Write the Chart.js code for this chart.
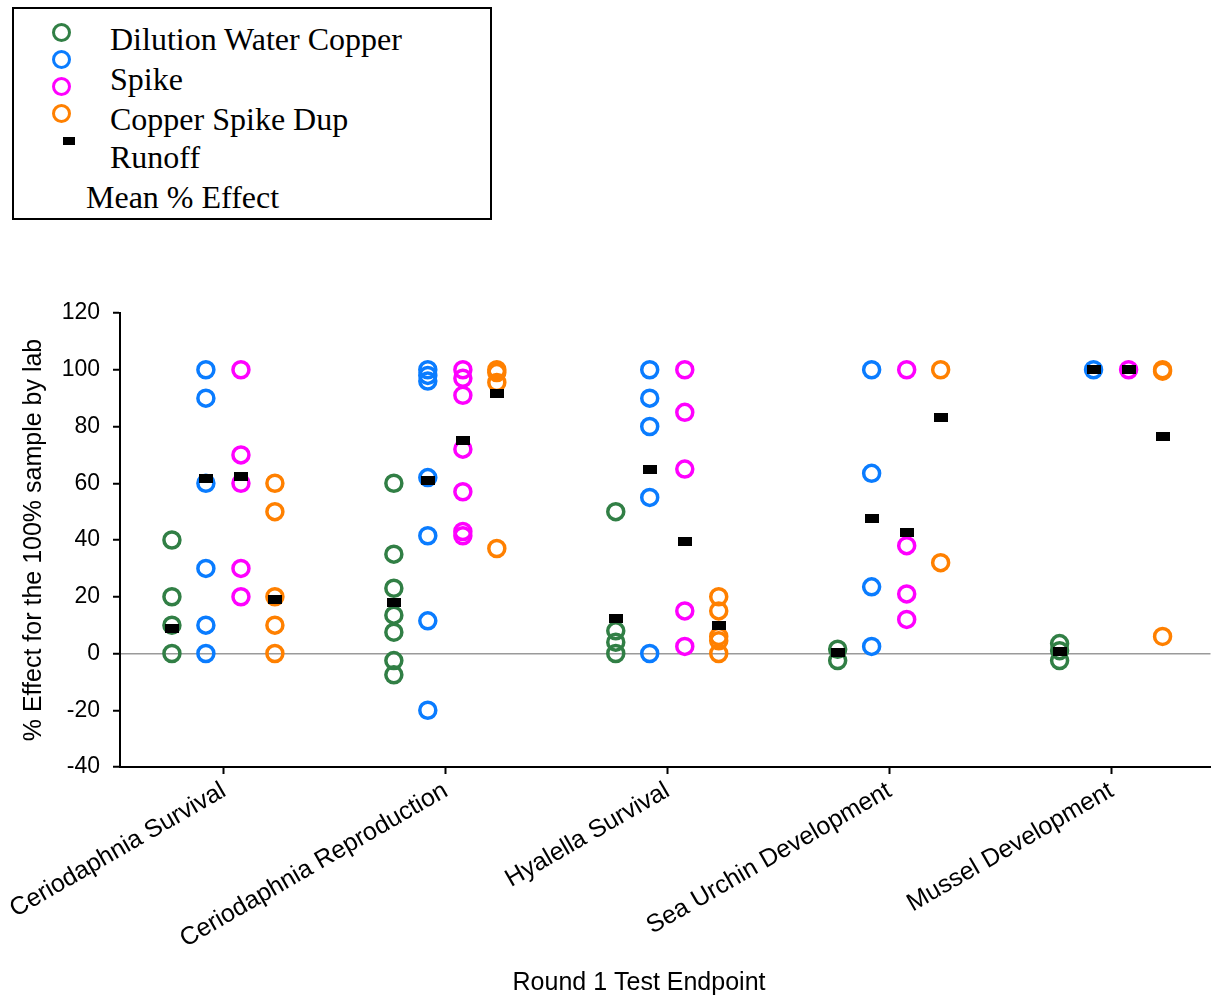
<!DOCTYPE html>
<html>
<head>
<meta charset="utf-8">
<script src="https://cdn.jsdelivr.net/npm/chart.js@4.4.0/dist/chart.umd.min.js"></script>
<style>
  body { margin: 0; background: #fff; }
  #wrap { position: relative; width: 1211px; height: 998px; overflow: hidden; }
  #legend {
    position: absolute; left: 12px; top: 7px; width: 476px; height: 209px;
    border: 2px solid #000; background: #fff;
    font-family: 'Liberation Serif', 'Times New Roman', serif; font-size: 32px; color: #000;
  }
  #legend .txt { position: absolute; line-height: 32px; white-space: nowrap; }
  #legend .dot { position: absolute; width: 19px; height: 19px; box-sizing: border-box; border: 3.5px solid; border-radius: 50%; }
  #legend .box { position: absolute; width: 12px; height: 8px; background: #000; }
</style>
</head>
<body>
<div id="wrap">
  <!-- canvas a bit wider than the page: Chart.js keeps room for point overflow on the right -->
  <canvas id="scatterChart" width="1222" height="998"></canvas>
  <div id="legend">
    <div class="dot" style="left:38px;top:14px;border-color:#317f45"></div>
    <div class="dot" style="left:38px;top:41px;border-color:#0a7cff"></div>
    <div class="dot" style="left:38px;top:68px;border-color:#ff00ff"></div>
    <div class="dot" style="left:38px;top:95px;border-color:#ff8000"></div>
    <div class="box" style="left:49px;top:128px"></div>
    <div class="txt" style="left:96px;top:14px">Dilution Water Copper</div>
    <div class="txt" style="left:96px;top:54px">Spike</div>
    <div class="txt" style="left:96px;top:94px">Copper Spike Dup</div>
    <div class="txt" style="left:96px;top:132px">Runoff</div>
    <div class="txt" style="left:72px;top:172px">Mean % Effect</div>
  </div>
</div>
<script>
// categories (x axis)
var categories = ['Ceriodaphnia Survival', 'Ceriodaphnia Reproduction', 'Hyalella Survival',
                  'Sea Urchin Development', 'Mussel Development'];

// % effect per lab, one list per category
var dilutionWater = [[40, 20, 10, 0], [60, 35, 23, 13.5, 7.5, -2.5, -7.5], [50, 8, 4, 0], [1.5, -2.5], [3.5, 1, -2.5]];
var copperSpike = [[100, 90, 60, 30, 10, 0], [100, 98, 96, 62, 41.5, 11.5, -20], [100, 90, 80, 55, 0], [100, 63.5, 23.5, 2.5], [100]];
var spikeDup = [[100, 70, 60, 30, 20], [100, 97, 91, 72, 57, 43, 41.5], [100, 85, 65, 15, 2.5], [100, 38, 21, 12], [100]];
var runoff = [[60, 50, 20, 10, 0], [100, 99, 95.5, 37], [20, 15, 6, 4.5, 0], [100, 32], [100, 99.5, 6]];

// mean % effect per category
var meanDilution = [8.7, 17.8, 12.5, 0.2, 0.8];
var meanSpike = [61.5, 61, 65, 47.5, 100];
var meanDup = [62.5, 75, 39.5, 42.5, 100];
var meanRunoff = [19, 91.5, 10, 83, 76.5];

var yTicks = [-40, -20, 0, 20, 40, 60, 80, 100, 120];

var offsets = [-0.234, -0.081, 0.077, 0.23];
var colors = ['#317f45', '#0a7cff', '#ff00ff', '#ff8000'];

function toPoints(groups, k) {
    var pts = [];
    groups.forEach(function (vals, i) {
        vals.forEach(function (v) { pts.push({ x: i + offsets[k], y: v }); });
    });
    return pts;
}

var meanPts = [];
[meanDilution, meanSpike, meanDup, meanRunoff].forEach(function (arr, k) {
    arr.forEach(function (v, i) { meanPts.push({ x: i + offsets[k], y: v }); });
});

// black bar marker for the means
var bar = document.createElement('canvas');
bar.width = 14; bar.height = 9;
var bctx = bar.getContext('2d');
bctx.fillStyle = '#000';
bctx.fillRect(0, 0, 14, 9);

var font = "'Liberation Sans', Arial, sans-serif";

var xTitle = {
    id: 'xTitle',
    afterDraw: function (chart) {
        var c = chart.ctx;
        c.save();
        c.font = '25px ' + font;
        c.fillStyle = '#000';
        c.textAlign = 'center';
        c.textBaseline = 'middle';
        c.fillText('Round 1 Test Endpoint', 639, 983);
        c.restore();
    }
};

function circleSet(label, data, k) {
    return {
        label: label,
        data: toPoints(data, k),
        borderColor: colors[k],
        backgroundColor: 'rgba(0,0,0,0)',
        borderWidth: 3.5,
        pointRadius: 8,
        pointHoverRadius: 8,
        order: 1
    };
}

var ctx = document.getElementById('scatterChart').getContext('2d');
var chart = new Chart(ctx, {
    type: 'scatter',
    data: {
        datasets: [
            circleSet('Dilution Water', dilutionWater, 0),
            circleSet('Copper Spike', copperSpike, 1),
            circleSet('Copper Spike Dup', spikeDup, 2),
            circleSet('Runoff', runoff, 3),
            {
                label: 'Mean % Effect',
                data: meanPts,
                pointStyle: bar,
                order: 0
            }
        ]
    },
    options: {
        responsive: false,
        animation: false,
        events: [],
        layout: { padding: { top: 313, left: 0, right: 0, bottom: 0 } },
        plugins: { legend: { display: false }, tooltip: { enabled: false } },
        scales: {
            x: {
                type: 'linear',
                min: -0.468,
                max: 4.446,
                afterBuildTicks: function (scale) {
                    scale.ticks = categories.map(function (c, i) { return { value: i }; });
                },
                afterFit: function (scale) {
                    scale.height = 231;
                    scale.paddingLeft = 0;
                    scale.paddingRight = 0;
                },
                ticks: {
                    autoSkip: false,
                    minRotation: 30,
                    maxRotation: 30,
                    padding: 2,
                    color: '#000',
                    font: { family: font, size: 25 },
                    callback: function (v) { return categories[v]; }
                },
                grid: { drawOnChartArea: false, tickLength: 7, tickColor: '#000', tickWidth: 2 },
                border: { color: '#000', width: 2 }
            },
            y: {
                min: -40,
                max: 120,
                afterBuildTicks: function (scale) {
                    scale.ticks = yTicks.map(function (v) { return { value: v }; });
                },
                afterFit: function (scale) { scale.width = 120; },
                ticks: {
                    padding: 13,
                    color: '#000',
                    font: { family: font, size: 23 }
                },
                grid: {
                    color: function (c) { return c.tick && c.tick.value === 0 ? '#9a9a9a' : 'rgba(0,0,0,0)'; },
                    lineWidth: 1.5,
                    tickLength: 7,
                    tickColor: '#000',
                    tickWidth: 2
                },
                border: { color: '#000', width: 2 },
                title: {
                    display: true,
                    text: '% Effect for the 100% sample by lab',
                    color: '#000',
                    font: { family: font, size: 25 },
                    padding: { top: 19, bottom: 0 }
                }
            }
        }
    },
    plugins: [xTitle]
});
</script>
</body>
</html>
